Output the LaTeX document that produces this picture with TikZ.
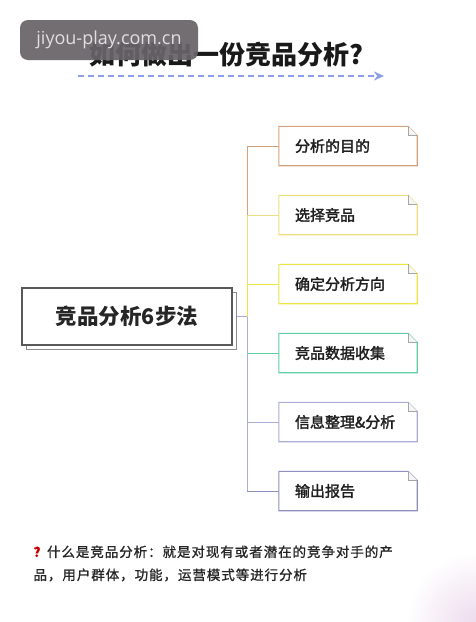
\documentclass[tikz,border=0pt]{standalone}
\usepackage{fontspec}
\setmainfont{Noto Sans CJK SC}
\newfontfamily\medfont{Noto Sans CJK SC}[FakeBold=2]
\newfontfamily\notefont{Noto Sans CJK SC}[FakeBold=1,LetterSpace=7]
\newfontfamily\wmfont{Open Sans}
\usetikzlibrary{arrows.meta,shadows}
\definecolor{stepA}{RGB}{214,160,122}
\definecolor{stepB}{RGB}{238,222,128}
\definecolor{stepC}{RGB}{238,228,70}
\definecolor{stepD}{RGB}{96,206,160}
\definecolor{stepE}{RGB}{172,172,216}
\definecolor{stepF}{RGB}{142,142,192}
\definecolor{arrowblue}{RGB}{140,158,232}
\definecolor{wmgray}{RGB}{104,99,104}
\tikzset{
  stepnote/.style={minimum height=39pt,text width=106pt,inner xsep=16pt,align=left,
    text=black!88,font=\medfont\fontsize{15}{18}\selectfont},
  mainbox/.style={draw=black!65,line width=1.1pt,fill=white,minimum width=210pt,minimum height=57pt,
    font=\fontsize{21.5}{24}\selectfont\bfseries,text=black!85,
    copy shadow={shadow xshift=4pt,shadow yshift=-4pt,fill=white,draw=black!45,line width=0.9pt}},
  branch/.style={line width=1pt},
}
\begin{document}
\begin{tikzpicture}[x=1pt,y=-1pt]
\useasboundingbox (0,0) rectangle (476,622);
\fill[white] (0,0) rectangle (476,622);
\shade[inner color=violet!14,outer color=white] (476,622) circle (70);

% title
\node[font=\fontsize{26}{30}\selectfont\bfseries,text=black!90] (title) at (226,55) {如何做出一份竞品分析?};
\coordinate (arrS) at (78,76);
\coordinate (arrE) at (384,76);
\draw[arrowblue,line width=1.8pt,dash pattern=on 6pt off 4pt,-{Stealth[length=10pt,width=9pt]}] (arrS) -- (arrE);

% watermark
\node[fill=wmgray,fill opacity=0.93,text opacity=1,rounded corners=8pt,minimum width=178pt,minimum height=40pt,
  text=white!88!black,font=\wmfont\fontsize{18}{20}\selectfont] (mark) at (109,40) {jiyou-play.com.cn};

% main box
\node[mainbox] (main) at (127,316.5) {竞品分析6步法};

% six steps
\node[stepnote] (s1) at (348,146) {分析的目的};
\node[stepnote] (s2) at (348,215) {选择竞品};
\node[stepnote] (s3) at (348,284) {确定分析方向};
\node[stepnote] (s4) at (348,353) {竞品数据收集};
\node[stepnote] (s5) at (348,422) {信息整理\&分析};
\node[stepnote] (s6) at (348,491) {输出报告};

\foreach \n/\c in {s1/stepA,s2/stepB,s3/stepC,s4/stepD,s5/stepE,s6/stepF}{
  \draw[\c,line width=1.1pt] (\n.south west) -- (\n.north west) -- ([xshift=-9pt]\n.north east)
    -- ([yshift=-9pt]\n.north east) -- (\n.south east) -- cycle;
  \draw[black!35,line width=0.5pt,fill=black!4] ([xshift=-9pt]\n.north east) -- ([xshift=-9pt,yshift=-9pt]\n.north east)
    -- ([yshift=-9pt]\n.north east);
}

% connectors
\coordinate (spine) at (247,316.5);
\draw[branch,stepA] (spine |- s1.west) -- (s1.west);
\draw[branch,stepB] (spine |- s2.west) -- (s2.west);
\draw[branch,stepC] (spine |- s3.west) -- (s3.west);
\draw[branch,stepD] (spine |- s4.west) -- (s4.west);
\draw[branch,stepE] (spine |- s5.west) -- (s5.west);
\draw[branch,stepF] (spine |- s6.west) -- (s6.west);
\draw[branch,stepA] (spine |- s1.west) -- (spine |- s2.west);
\draw[branch,stepB] (spine |- s2.west) -- (spine |- s3.west);
\draw[branch,stepC] (spine |- s3.west) -- (spine);
\draw[branch,stepE] (spine) -- (spine |- s6.west);
\draw[branch,stepE] ([xshift=4pt]main.east) -- (spine);

% note
\node[anchor=north west,align=left,text=black!85,font=\notefont\fontsize{13.5}{23}\selectfont] (note) at (30,542)
  {{\color{red!80!black}\bfseries ？}什么是竞品分析：就是对现有或者潜在的竞争对手的产\\品，用户群体，功能，运营模式等进行分析};
\end{tikzpicture}
\end{document}
